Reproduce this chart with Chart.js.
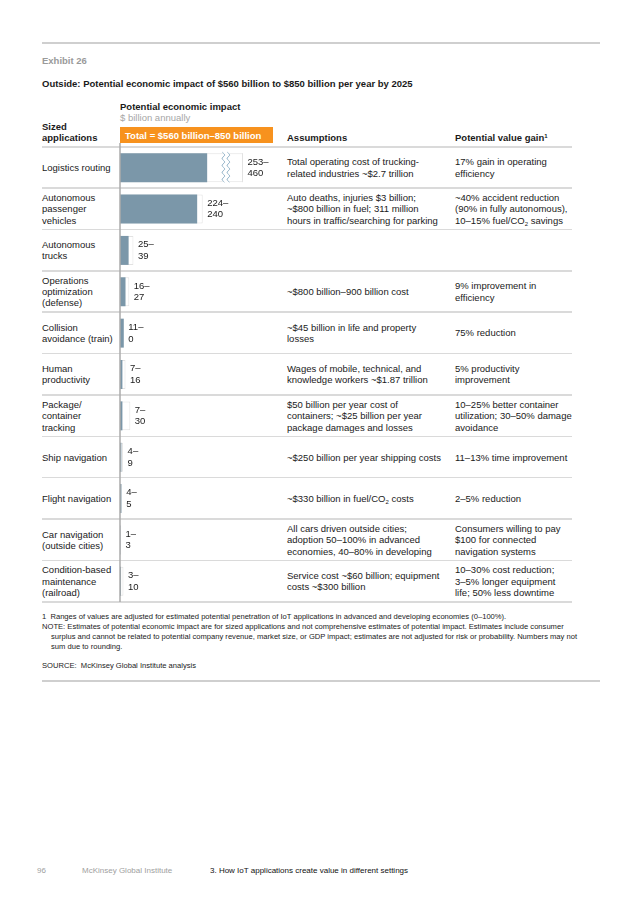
<!DOCTYPE html>
<html>
<head>
<meta charset="utf-8">
<script src="https://cdn.jsdelivr.net/npm/chart.js@4.4.1/dist/chart.umd.min.js"></script>
<style>
  body { margin: 0; background: #fff; font-family: Arial, "Liberation Sans", Helvetica, sans-serif; color: #1a1a1a; }
  #page { position: relative; width: 636px; height: 900px; overflow: hidden; }
  .abs { position: absolute; white-space: nowrap; }
  .rule { position: absolute; left: 42px; width: 558px; height: 2px; background: #cfcfcf; }
  .sep { position: absolute; left: 42px; width: 530px; height: 1.5px; background: #dadada; }
  .row { position: absolute; display: flex; align-items: center; font-size: 9.5px; line-height: 11.3px; white-space: nowrap; }
  sub { font-size: 6px; vertical-align: -1.5px; line-height: 0; }
  sup { font-size: 6px; vertical-align: 3px; line-height: 0; }
  .foot { position: absolute; left: 42px; font-size: 7.6px; line-height: 10px; white-space: nowrap; }
</style>
</head>
<body>
<div id="page">
  <div class="rule" style="top:42px"></div>
  <div class="abs" style="left:42px; top:55px; font-size:9.5px; font-weight:bold; color:#9a9a9a">Exhibit 26</div>
  <div class="abs" style="left:42px; top:78px; font-size:9.5px; font-weight:bold">Outside: Potential economic impact of $560 billion to $850 billion per year by 2025</div>

  <div class="abs" style="left:120px; top:101px; font-size:9.5px; font-weight:bold">Potential economic impact</div>
  <div class="abs" style="left:120px; top:112px; font-size:9.5px; color:#a6a6a6">$ billion annually</div>
  <div class="abs" style="left:42px; top:121px; font-size:9.5px; line-height:11.3px; font-weight:bold">Sized<br>applications</div>
  <div class="abs" style="left:120px; top:127px; width:153px; height:16px; background:#f7921e"></div>
  <div class="abs" style="left:125px; top:129.5px; font-size:9.5px; font-weight:bold; color:#fff">Total = $560 billion–850 billion</div>
  <div class="abs" style="left:287px; top:132px; font-size:9.5px; font-weight:bold">Assumptions</div>
  <div class="abs" style="left:455px; top:132px; font-size:9.5px; font-weight:bold">Potential value gain<sup>1</sup></div>

  <div id="rows"></div>

  <canvas id="bars" width="180" height="463" style="position:absolute; left:110px; top:143px"></canvas>

  <div class="foot" style="top:612px">1&nbsp;&nbsp;Ranges of values are adjusted for estimated potential penetration of IoT applications in advanced and developing economies (0–100%).</div>
  <div class="foot" style="top:622px">NOTE: Estimates of potential economic impact are for sized applications and not comprehensive estimates of potential impact. Estimates include consumer</div>
  <div class="foot" style="top:632px; left:51px">surplus and cannot be related to potential company revenue, market size, or GDP impact; estimates are not adjusted for risk or probability. Numbers may not</div>
  <div class="foot" style="top:642px; left:51px">sum due to rounding.</div>
  <div class="foot" style="top:661px">SOURCE:&nbsp;&nbsp;McKinsey Global Institute analysis</div>
  <div class="rule" style="top:680px"></div>

  <div class="abs" style="left:37px; top:866px; font-size:8px; color:#a0a0a0">96</div>
  <div class="abs" style="left:82px; top:866px; font-size:8px; color:#a0a0a0">McKinsey Global Institute</div>
  <div class="abs" style="left:210px; top:866px; font-size:8px; color:#111">3. How IoT applications create value in different settings</div>
</div>

<script>
// rows, top to bottom
const applications = [
  'Logistics routing',
  'Autonomous<br>passenger<br>vehicles',
  'Autonomous<br>trucks',
  'Operations<br>optimization<br>(defense)',
  'Collision<br>avoidance (train)',
  'Human<br>productivity',
  'Package/<br>container<br>tracking',
  'Ship navigation',
  'Flight navigation',
  'Car navigation<br>(outside cities)',
  'Condition-based<br>maintenance<br>(railroad)'
];
// $ billion annually, low and high end of the range
const lowValues = [253, 224, 25, 16, 11, 7, 7, 4, 4, 1, 3];
const highValues = [460, 240, 39, 27, 0, 16, 30, 9, 5, 3, 10];
const assumptions = [
  'Total operating cost of trucking-<br>related industries ~$2.7 trillion',
  'Auto deaths, injuries $3 billion;<br>~$800 billion in fuel; 311 million<br>hours in traffic/searching for parking',
  '',
  '~$800 billion–900 billion cost',
  '~$45 billion in life and property<br>losses',
  'Wages of mobile, technical, and<br>knowledge workers ~$1.87 trillion',
  '$50 billion per year cost of<br>containers; ~$25 billion per year<br>package damages and losses',
  '~$250 billion per year shipping costs',
  '~$330 billion in fuel/CO<sub>2</sub> costs',
  'All cars driven outside cities;<br>adoption 50–100% in advanced<br>economies, 40–80% in developing',
  'Service cost ~$60 billion; equipment<br>costs ~$300 billion'
];
const valueGains = [
  '17% gain in operating<br>efficiency',
  '~40% accident reduction<br>(90% in fully autonomous),<br>10–15% fuel/CO<sub>2</sub> savings',
  '',
  '9% improvement in<br>efficiency',
  '75% reduction',
  '5% productivity<br>improvement',
  '10–25% better container<br>utilization; 30–50% damage<br>avoidance',
  '11–13% time improvement',
  '2–5% reduction',
  'Consumers willing to pay<br>$100 for connected<br>navigation systems',
  '10–30% cost reduction;<br>3–5% longer equipment<br>life; 50% less downtime'
];

const tableTop = 147;
const rowH = 455 / applications.length;
const rows = document.getElementById('rows');
let html = '<div class="sep" style="top:' + (tableTop - 1) + 'px"></div>';
applications.forEach((app, i) => {
  const top = tableTop + i * rowH;
  const cell = (x, txt) => '<div class="row" style="left:' + x + 'px;top:' + top + 'px;height:' + rowH + 'px"><div>' + txt + '</div></div>';
  html += cell(42, app) + cell(287, assumptions[i]) + cell(455, valueGains[i]);
  html += '<div class="sep" style="top:' + (top + rowH - 1) + 'px"></div>';
});
rows.innerHTML = html;

// range labels, axis line and the break on bars that run past the axis
const rangeExtras = {
  id: 'rangeExtras',
  afterDatasetsDraw(chart) {
    const c = chart.ctx;
    const area = chart.chartArea;
    const xs = chart.scales.x;
    const ys = chart.scales.y;
    const highMeta = chart.getDatasetMeta(1);

    c.save();
    c.strokeStyle = '#ababab';
    c.lineWidth = 1.5;
    c.beginPath();
    c.moveTo(area.left, 0);
    c.lineTo(area.left, area.bottom);
    c.stroke();

    highValues.forEach((hi, i) => {
      const bar = highMeta.data[i];
      if (hi > xs.max) {
        const top = bar.y - bar.height / 2;
        const bottom = bar.y + bar.height / 2;
        c.strokeStyle = '#e2e2e2';
        c.lineWidth = 1;
        c.beginPath();
        c.moveTo(area.right - 0.5, top);
        c.lineTo(area.right - 0.5, bottom);
        c.stroke();
        const bx = xs.getPixelForValue(300);
        c.fillStyle = '#fff';
        c.fillRect(bx, top - 2, 5, bottom - top + 4);
        c.strokeStyle = '#8fb1c7';
        c.lineWidth = 1;
        [bx, bx + 5].forEach(x0 => {
          c.beginPath();
          for (let y = top - 1; y <= bottom + 1; y += 1) {
            const x = x0 + 1.3 * Math.sin((y - top) / 7 * Math.PI * 2);
            if (y === top - 1) c.moveTo(x, y); else c.lineTo(x, y);
          }
          c.stroke();
        });
      }
    });

    c.fillStyle = '#1a1a1a';
    c.font = '9.5px Arial, "Liberation Sans", sans-serif';
    c.textBaseline = 'middle';
    c.textAlign = 'left';
    highValues.forEach((hi, i) => {
      const end = Math.min(xs.getPixelForValue(Math.max(hi, lowValues[i])), area.right);
      const y = ys.getPixelForValue(i);
      c.fillText(lowValues[i] + '–', end + 4.5, y - 5.8);
      c.fillText(String(hi), end + 4.5, y + 5.8);
    });
    c.restore();
  }
};

new Chart(document.getElementById('bars'), {
  type: 'bar',
  data: {
    labels: applications.map(a => a.replace(/<br>/g, ' ')),
    datasets: [{
      data: lowValues,
      backgroundColor: '#7b97a9',
      borderWidth: 0,
      grouped: false,
      barPercentage: 0.7,
      categoryPercentage: 1
    }, {
      data: highValues,
      backgroundColor: '#ffffff',
      borderColor: '#e2e2e2',
      borderWidth: 1,
      grouped: false,
      barPercentage: 0.7,
      categoryPercentage: 1,
      clip: 0
    }]
  },
  options: {
    indexAxis: 'y',
    responsive: false,
    animation: false,
    layout: { padding: { left: 10, right: 47, top: 4, bottom: 4 } },
    scales: {
      x: { display: false, min: 0, max: 357 },
      y: { display: false }
    },
    plugins: {
      legend: { display: false },
      tooltip: { enabled: false }
    }
  },
  plugins: [rangeExtras]
});
</script>
</body>
</html>
